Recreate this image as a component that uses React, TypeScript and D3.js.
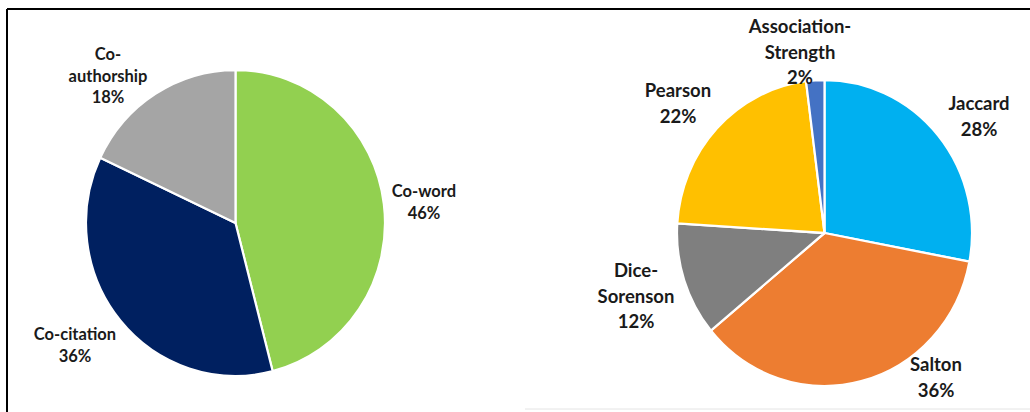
import React from "react";
import * as d3 from "d3";

// ---- Data ----
const leftCategories = ["Co-word", "Co-citation", "Co-authorship"];
const leftValues = [46, 36, 18];
const leftLabelLines = [["Co-word"], ["Co-citation"], ["Co-", "authorship"]];

const rightCategories = ["Jaccard", "Salton", "Dice-Sorenson", "Pearson", "Association-Strength"];
const rightValues = [28, 36, 12, 22, 2];
const rightLabelLines = [["Jaccard"], ["Salton"], ["Dice-", "Sorenson"], ["Pearson"], ["Association-", "Strength"]];

// ---- Styles / layout ----
const leftColors = ["#92D050", "#002060", "#A5A5A5"];
const rightColors = ["#00B0F0", "#ED7D31", "#7F7F7F", "#FFC000", "#4472C4"];

const W = 1030;
const H = 412;
const FONT = "Lato, 'Open Sans', sans-serif";

// label anchor: center x, first baseline y (absolute)
const leftLabelPos = [
  [424, 197],
  [75, 340],
  [108, 60],
];
const rightLabelPos = [
  [979, 110],
  [936, 371],
  [636, 277],
  [678, 97],
  [800, 33],
];

type PieProps = {
  cx: number;
  cy: number;
  rx: number;
  ry: number;
  categories: string[];
  values: number[];
  colors: string[];
  lines: string[][];
  labelPos: number[][];
  fontSize: number;
  lineH: number;
};

function Pie({ cx, cy, rx, ry, categories, values, colors, lines, labelPos, fontSize, lineH }: PieProps) {
  const total = d3.sum(values);
  const pie = d3.pie<number>().sort(null).value((d) => d).startAngle(0).endAngle(2 * Math.PI);
  const arcs = pie(values);
  const arc = d3.arc<d3.PieArcDatum<number>>().innerRadius(0).outerRadius(rx);
  const pct = d3.format(".0%");
  return (
    <g>
      <g transform={`translate(${cx},${cy}) scale(1,${ry / rx})`}>
        {arcs.map((a, i) => (
          <path
            key={categories[i]}
            d={arc(a) || ""}
            fill={colors[i]}
            stroke="#fff"
            strokeWidth={2.2}
            strokeLinejoin="round"
          />
        ))}
      </g>
      {arcs.map((a, i) => {
        const [x, y] = labelPos[i];
        const all = [...lines[i], pct(values[i] / total)];
        return (
          <text
            key={"l" + categories[i]}
            x={x}
            y={y}
            textAnchor="middle"
            fontFamily={FONT}
            fontWeight={700}
            fontSize={fontSize}
            fill="#1a1a1a"
          >
            {all.map((t, j) => (
              <tspan key={j} x={x} y={y + j * lineH}>
                {t}
              </tspan>
            ))}
          </text>
        );
      })}
    </g>
  );
}

export default function App() {
  return (
    <svg
      width={W}
      height={H}
      style={{ position: "absolute", left: 0, top: 0, background: "#fff" }}
    >
      <rect x={0} y={0} width={W} height={H} fill="#fff" />
      <line x1={7} y1={9} x2={W} y2={9} stroke="#000" strokeWidth={2} />
      <line x1={7} y1={9} x2={7} y2={H} stroke="#000" strokeWidth={2} />
      <line x1={525} y1={409} x2={W} y2={409} stroke="#e4e4e4" strokeWidth={1} />
      <Pie
        cx={235.5}
        cy={223}
        rx={149.5}
        ry={153}
        categories={leftCategories}
        values={leftValues}
        colors={leftColors}
        lines={leftLabelLines}
        labelPos={leftLabelPos}
        fontSize={16.5}
        lineH={21.5}
      />
      <Pie
        cx={824.5}
        cy={233}
        rx={147.5}
        ry={153}
        categories={rightCategories}
        values={rightValues}
        colors={rightColors}
        lines={rightLabelLines}
        labelPos={rightLabelPos}
        fontSize={18.5}
        lineH={25.5}
      />
    </svg>
  );
}
